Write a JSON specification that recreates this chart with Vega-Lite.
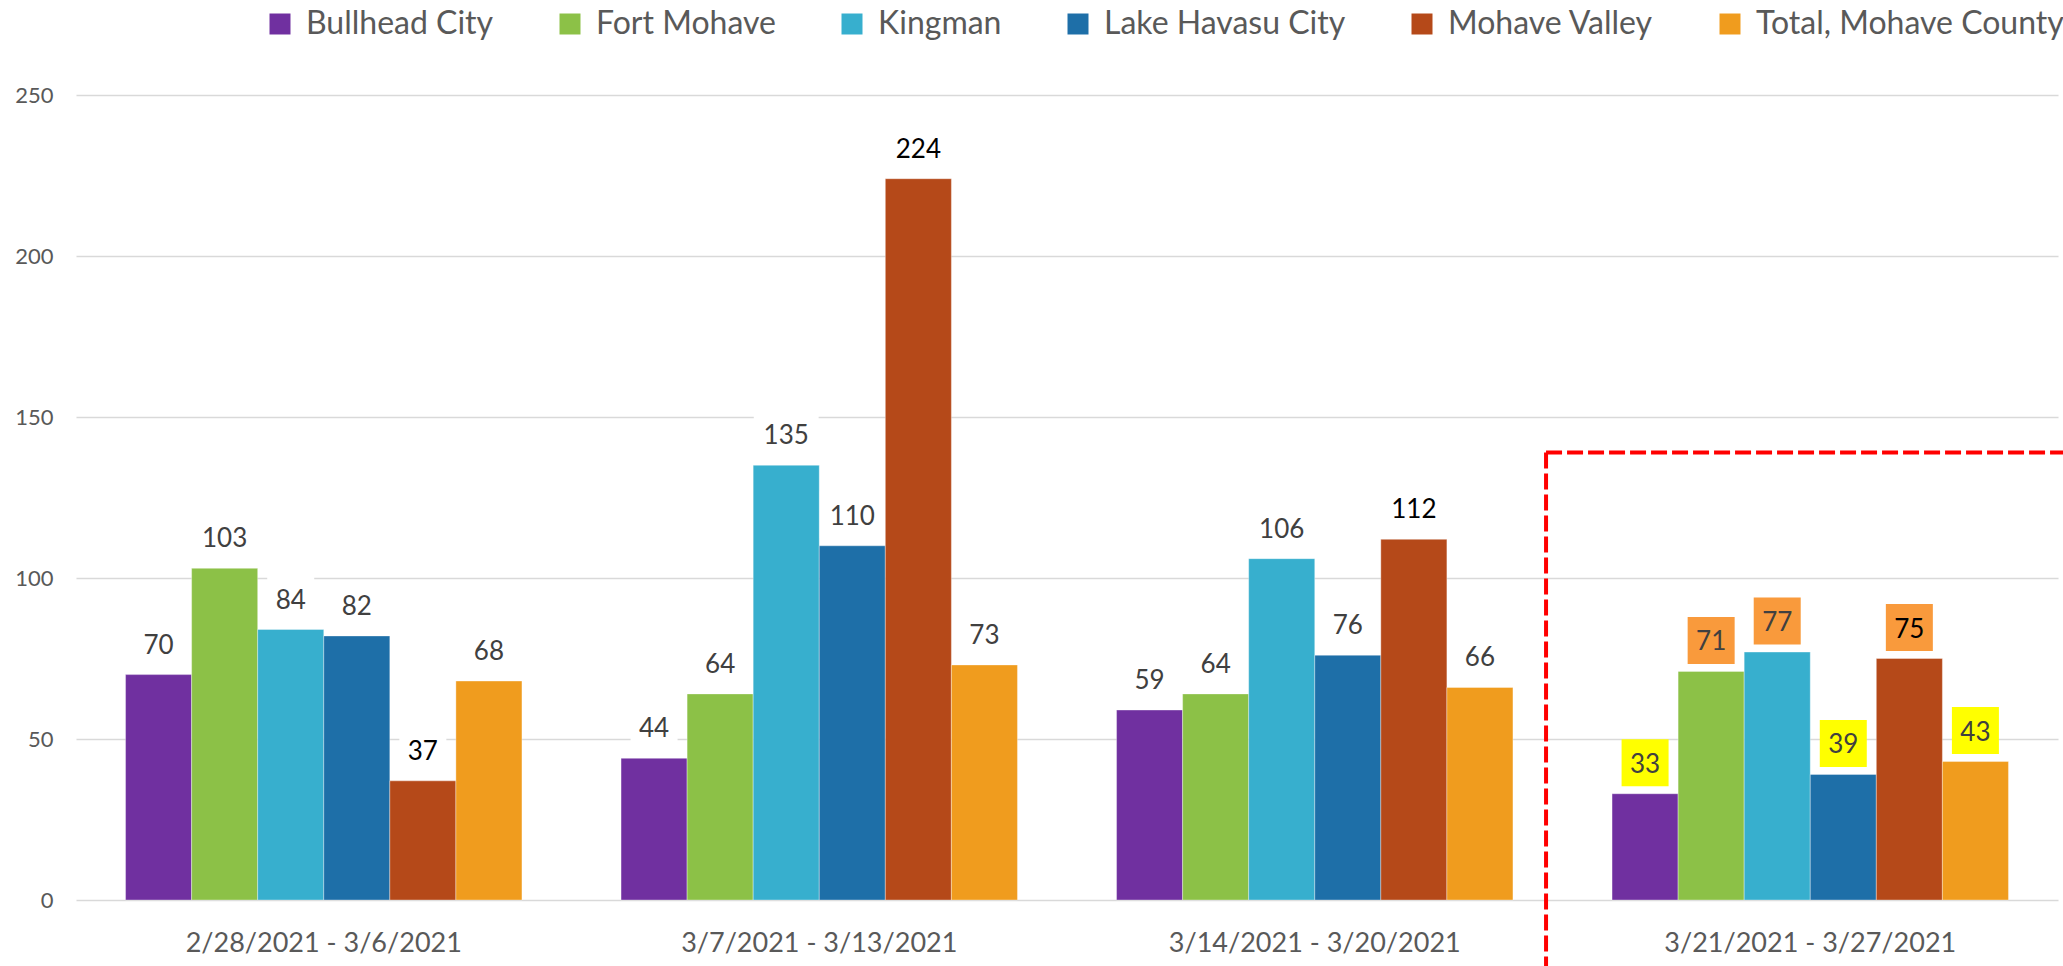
{
  "$schema": "https://vega.github.io/schema/vega-lite/v6.json",
  "autosize": "none",
  "padding": {"left": 76, "top": 95, "right": 5, "bottom": 66},
  "width": 1982,
  "height": 805,
  "background": "white",
  "config": {"view": {"stroke": null}, "font": "Lato"},
  "data": {
    "values": [
      {"week": "2/28/2021 - 3/6/2021", "city": "Bullhead City", "value": 70},
      {"week": "2/28/2021 - 3/6/2021", "city": "Fort Mohave", "value": 103},
      {"week": "2/28/2021 - 3/6/2021", "city": "Kingman", "value": 84},
      {"week": "2/28/2021 - 3/6/2021", "city": "Lake Havasu City", "value": 82},
      {"week": "2/28/2021 - 3/6/2021", "city": "Mohave Valley", "value": 37},
      {"week": "2/28/2021 - 3/6/2021", "city": "Total, Mohave County", "value": 68},
      {"week": "3/7/2021 - 3/13/2021", "city": "Bullhead City", "value": 44},
      {"week": "3/7/2021 - 3/13/2021", "city": "Fort Mohave", "value": 64},
      {"week": "3/7/2021 - 3/13/2021", "city": "Kingman", "value": 135},
      {"week": "3/7/2021 - 3/13/2021", "city": "Lake Havasu City", "value": 110},
      {"week": "3/7/2021 - 3/13/2021", "city": "Mohave Valley", "value": 224},
      {"week": "3/7/2021 - 3/13/2021", "city": "Total, Mohave County", "value": 73},
      {"week": "3/14/2021 - 3/20/2021", "city": "Bullhead City", "value": 59},
      {"week": "3/14/2021 - 3/20/2021", "city": "Fort Mohave", "value": 64},
      {"week": "3/14/2021 - 3/20/2021", "city": "Kingman", "value": 106},
      {"week": "3/14/2021 - 3/20/2021", "city": "Lake Havasu City", "value": 76},
      {"week": "3/14/2021 - 3/20/2021", "city": "Mohave Valley", "value": 112},
      {"week": "3/14/2021 - 3/20/2021", "city": "Total, Mohave County", "value": 66},
      {"week": "3/21/2021 - 3/27/2021", "city": "Bullhead City", "value": 33},
      {"week": "3/21/2021 - 3/27/2021", "city": "Fort Mohave", "value": 71},
      {"week": "3/21/2021 - 3/27/2021", "city": "Kingman", "value": 77},
      {"week": "3/21/2021 - 3/27/2021", "city": "Lake Havasu City", "value": 39},
      {"week": "3/21/2021 - 3/27/2021", "city": "Mohave Valley", "value": 75},
      {"week": "3/21/2021 - 3/27/2021", "city": "Total, Mohave County", "value": 43}
    ]
  },
  "layer": [
    {
      "mark": {"type": "bar", "stroke": "white", "strokeWidth": 1, "strokeOpacity": 0.35},
      "encoding": {
        "x": {
          "field": "week", "type": "nominal", "sort": null,
          "scale": {"domain": ["2/28/2021 - 3/6/2021", "3/7/2021 - 3/13/2021", "3/14/2021 - 3/20/2021", "3/21/2021 - 3/27/2021"], "paddingInner": 0.2, "paddingOuter": 0.1},
          "axis": {"title": null, "labelAngle": 0, "labelLimit": 0, "labelFont": "Lato", "labelFontSize": 27, "labelColor": "#595959", "labelPadding": 51, "labelBaseline": "alphabetic", "ticks": false, "tickSize": 0, "domain": false, "grid": false}
        },
        "xOffset": {
          "field": "city", "type": "nominal", "sort": null,
          "scale": {"domain": ["Bullhead City", "Fort Mohave", "Kingman", "Lake Havasu City", "Mohave Valley", "Total, Mohave County"], "paddingInner": 0, "paddingOuter": 0}
        },
        "y": {
          "field": "value", "type": "quantitative",
          "scale": {"domain": [0, 250], "nice": false},
          "axis": {"title": null, "values": [0, 50, 100, 150, 200, 250], "labelFont": "Lato", "labelFontSize": 22, "labelColor": "#595959", "labelPadding": 23, "ticks": false, "tickSize": 0, "domain": false, "grid": true, "gridColor": "#D9D9D9", "gridWidth": 1.6}
        },
        "color": {
          "field": "city", "type": "nominal", "sort": null,
          "scale": {"domain": ["Bullhead City", "Fort Mohave", "Kingman", "Lake Havasu City", "Mohave Valley", "Total, Mohave County"], "range": ["#7030A0", "#8CC147", "#37AFCE", "#1E6FA8", "#B54919", "#F09C1E"]},
          "legend": {"orient": "none", "legendX": 188, "legendY": -87, "direction": "horizontal", "title": null, "symbolType": "square", "symbolSize": 441, "symbolStrokeWidth": 0, "symbolOpacity": 1, "labelFont": "Lato", "labelFontSize": 32, "labelLimit": 0, "labelColor": "#595959", "labelOffset": 10, "columnPadding": 60, "padding": 0}
        }
      }
    },
    {
      "mark": {"type": "point", "filled": true, "size": 2209, "opacity": 1, "strokeWidth": 0, "yOffset": -31},
      "encoding": {
        "x": {"field": "week", "type": "nominal", "sort": null},
        "xOffset": {"field": "city", "type": "nominal", "sort": null},
        "y": {"field": "value", "type": "quantitative"},
        "shape": {"condition": {"test": "datum.value >= 100", "value": "M-1.38,-1H1.38V1H-1.38Z"}, "value": "square"},
        "fill": {
          "condition": [
            {"test": "datum.week === '3/21/2021 - 3/27/2021' && datum.value < 50", "value": "#FFFF00"},
            {"test": "datum.week === '3/21/2021 - 3/27/2021'", "value": "#F99A3C"}
          ],
          "value": "white"
        }
      }
    },
    {
      "mark": {"type": "text", "baseline": "alphabetic", "align": "center", "dy": -21, "font": "Lato", "fontSize": 26},
      "encoding": {
        "x": {"field": "week", "type": "nominal", "sort": null},
        "xOffset": {"field": "city", "type": "nominal", "sort": null},
        "y": {"field": "value", "type": "quantitative"},
        "text": {"field": "value", "type": "quantitative"},
        "fill": {"condition": {"test": "datum.city === 'Mohave Valley'", "value": "#000000"}, "value": "#404040"}
      }
    },
    {
      "data": {"values": [{}]},
      "mark": {"type": "rule", "color": "#FF0000", "strokeWidth": 4, "strokeDash": [16, 5], "xOffset": -66},
      "encoding": {
        "x": {"datum": "3/21/2021 - 3/27/2021", "type": "nominal", "bandPosition": 0},
        "y": {"datum": 139, "type": "quantitative"},
        "y2": {"datum": -25}
      }
    },
    {
      "data": {"values": [{}]},
      "mark": {"type": "rule", "color": "#FF0000", "strokeWidth": 4, "strokeDash": [16, 5], "xOffset": -66, "x2Offset": 8},
      "encoding": {
        "x": {"datum": "3/21/2021 - 3/27/2021", "type": "nominal", "bandPosition": 0},
        "x2": {"value": "width"},
        "y": {"datum": 139, "type": "quantitative"}
      }
    }
  ]
}
